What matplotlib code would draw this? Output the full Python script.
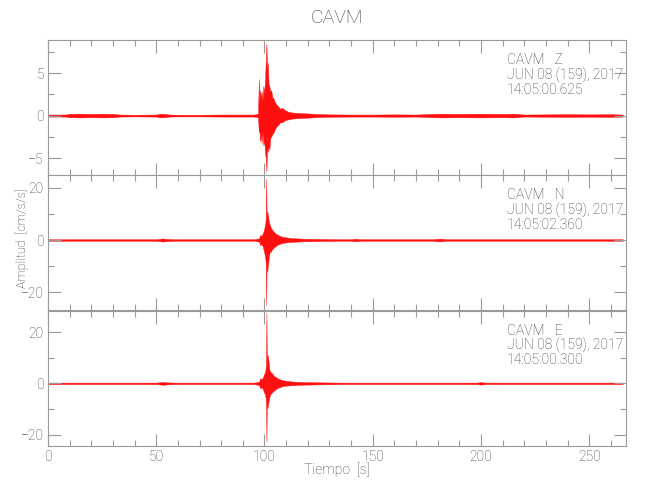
import matplotlib
matplotlib.use("Agg")
import matplotlib.pyplot as plt
from matplotlib.ticker import MultipleLocator

plt.rcParams['font.family'] = ['Roboto', 'DejaVu Sans']
plt.rcParams['font.weight'] = 'light'

# ---------------- data (envelopes) ----------------
station = "CAVM"
components = ["Z", "N", "E"]
date_text = "JUN 08 (159), 2017"
start_times = ["14:05:00.625", "14:05:02.360", "14:05:00.300"]

t_z = [0.3, 8, 10, 15, 20, 25, 30, 33, 40, 50,
       52, 54, 56, 60, 70, 80, 90, 95,
       97.0, 97.4, 97.6, 97.9, 98.3, 98.7, 99.1, 99.5, 99.9, 100.3,
       100.6, 100.9, 101.2, 101.5, 101.9, 102.3, 102.7, 103.1, 103.6, 104.2,
       104.8, 105.5, 106.3, 107.2, 108.2, 109.4, 111, 113, 116, 120,
       125, 130, 140, 150, 160, 170, 178, 182, 190, 200,
       210, 215, 220, 230, 240, 250, 260, 265.5]
upper_z = [0.12, 0.12, 0.2, 0.22, 0.2, 0.22, 0.2, 0.12, 0.1, 0.12,
           0.22, 0.2, 0.12, 0.1, 0.1, 0.12, 0.12, 0.12,
           0.2, 4.3, 1.5, 3.0, 2.2, 2.8, 1.8, 3.5, 2.6, 4.5,
           6.5, 8.5, 5.5, 6.2, 3.8, 3.4, 2.8, 3.0, 2.2, 2.0,
           1.6, 1.3, 1.1, 0.8, 0.9, 0.65, 0.45, 0.35, 0.3, 0.25,
           0.18, 0.14, 0.12, 0.12, 0.14, 0.12, 0.2, 0.22, 0.2, 0.22,
           0.2, 0.22, 0.12, 0.14, 0.16, 0.14, 0.16, 0.12]
lower_z = [-0.12, -0.12, -0.2, -0.22, -0.2, -0.22, -0.2, -0.12, -0.1, -0.12,
           -0.22, -0.2, -0.12, -0.1, -0.1, -0.12, -0.12, -0.12,
           -0.2, -2.0, -1.2, -3.0, -2.4, -3.2, -2.0, -3.5, -3.0, -4.5,
           -5.0, -6.6, -4.0, -4.3, -3.6, -4.0, -2.6, -2.5, -2.2, -2.0,
           -1.6, -1.3, -1.1, -0.8, -0.8, -0.55, -0.45, -0.35, -0.3, -0.25,
           -0.18, -0.14, -0.12, -0.12, -0.14, -0.12, -0.2, -0.22, -0.2, -0.22,
           -0.2, -0.22, -0.12, -0.14, -0.16, -0.14, -0.16, -0.12]

t_n = [0.3, 20, 50, 53, 55, 58, 80, 95, 97.5, 98.0,
       98.6, 99.2, 99.8, 100.3, 100.6, 100.8, 101.0, 101.3, 101.7, 102.1,
       102.5, 103.0, 103.5, 104.2, 105.0, 106.0, 107.0, 108.0, 110, 113,
       118, 125, 135, 140, 142, 145, 160, 178, 181, 184,
       200, 230, 265.5]
upper_n = [0.3, 0.3, 0.3, 0.6, 0.4, 0.3, 0.3, 0.3, 0.6, 2.0,
           1.5, 2.5, 4.0, 6.0, 8.0, 23.5, 9.0, 10.9, 9.0, 6.5,
           5.8, 4.5, 4.0, 3.2, 2.6, 2.0, 1.6, 1.3, 1.0, 0.7,
           0.5, 0.4, 0.3, 0.3, 0.5, 0.3, 0.3, 0.3, 0.55, 0.3,
           0.3, 0.3, 0.3]
lower_n = [-0.3, -0.3, -0.3, -0.6, -0.4, -0.3, -0.3, -0.3, -0.6, -2.0,
           -1.5, -2.5, -4.5, -6.5, -9.0, -24.8, -10.0, -11.9, -9.0, -6.0,
           -4.3, -4.5, -3.5, -3.0, -2.4, -1.8, -1.5, -1.2, -0.9, -0.7,
           -0.5, -0.4, -0.3, -0.3, -0.5, -0.3, -0.3, -0.3, -0.55, -0.3,
           -0.3, -0.3, -0.3]

t_e = [0.3, 20, 50, 53, 55, 58, 80, 95, 97.5, 98.0,
       98.6, 99.2, 99.8, 100.3, 100.7, 100.9, 101.1, 101.4, 101.8, 102.2,
       102.6, 103.0, 103.5, 104.2, 105.0, 106.0, 107.0, 108.0, 110, 113,
       118, 125, 135, 160, 198, 200, 202, 230, 265.5]
upper_e = [0.3, 0.3, 0.3, 0.55, 0.4, 0.3, 0.3, 0.3, 0.6, 2.0,
           1.5, 2.2, 3.5, 4.5, 7.0, 27.6, 9.0, 11.2, 9.5, 5.5,
           4.7, 4.2, 4.0, 3.0, 2.6, 2.0, 1.6, 1.3, 1.0, 0.7,
           0.5, 0.4, 0.3, 0.3, 0.3, 0.5, 0.3, 0.3, 0.3]
lower_e = [-0.3, -0.3, -0.3, -0.55, -0.4, -0.3, -0.3, -0.3, -0.6, -2.0,
           -1.5, -2.2, -3.5, -4.5, -7.0, -22.7, -8.5, -9.7, -7.5, -5.7,
           -4.4, -4.0, -3.5, -3.0, -2.4, -1.8, -1.5, -1.2, -0.9, -0.7,
           -0.5, -0.4, -0.3, -0.3, -0.3, -0.5, -0.3, -0.3, -0.3]

ylims = [(-7.0, 8.9), (-26.7, 24.8), (-24.3, 28.5)]
y_major = [5, 20, 20]
y_minor = [2.5, 10, 10]
x_max = 267

traces = [(t_z, upper_z, lower_z), (t_n, upper_n, lower_n), (t_e, upper_e, lower_e)]

# ---------------- figure ----------------
gray = "#9a9a9a"
txt = "#3c3c3c"
fig = plt.figure(figsize=(6.5, 5.0), dpi=100)
left, width = 48 / 650, (626 - 48) / 650
tops = [40, 175, 310.5]
h = 135 / 500

axes = []
for i in range(3):
    bottom = 1 - (tops[i] + 135) / 500
    ax = fig.add_axes([left, bottom, width, h])
    axes.append(ax)
    t, up, lo = traces[i]
    ax.fill_between(t, lo, up, color="#ff1010", linewidth=0.3, edgecolor="#ff1010")
    ax.set_xlim(0, x_max)
    ax.set_ylim(*ylims[i])
    ax.xaxis.set_major_locator(MultipleLocator(50))
    ax.xaxis.set_minor_locator(MultipleLocator(10))
    ax.yaxis.set_major_locator(MultipleLocator(y_major[i]))
    ax.yaxis.set_minor_locator(MultipleLocator(y_minor[i]))
    ax.tick_params(which="both", direction="in", top=True, right=True,
                   color=gray, labelcolor=txt, labelsize=10, width=0.8)
    ax.tick_params(which="major", length=9, pad=3)
    ax.tick_params(which="minor", length=4.5)
    if i < 2:
        ax.tick_params(labelbottom=False)
    for s in ax.spines.values():
        s.set_color(gray)
        s.set_linewidth(0.8)
    ax.text(0.794, 0.85, f"{station}   {components[i]}", transform=ax.transAxes,
            color=txt, fontsize=10, va="center", ha="left")
    ax.text(0.794, 0.74, date_text, transform=ax.transAxes,
            color=txt, fontsize=10, va="center", ha="left")
    ax.text(0.794, 0.63, start_times[i], transform=ax.transAxes,
            color=txt, fontsize=10, va="center", ha="left")

fig.text(22 / 650, 1 - 238 / 500, "Amplitud  [cm/s/s]", rotation=90,
         ha="center", va="center", color=txt, fontsize=9)
fig.text((48 + 626) / 2 / 650, 1 - 470 / 500, "Tiempo  [s]",
         ha="center", va="center", color=txt, fontsize=10)
fig.text((48 + 626) / 2 / 650, 1 - 18 / 500, station, ha="center", va="center",
         color=txt, fontsize=14)

fig.savefig("out.png", dpi=100)
